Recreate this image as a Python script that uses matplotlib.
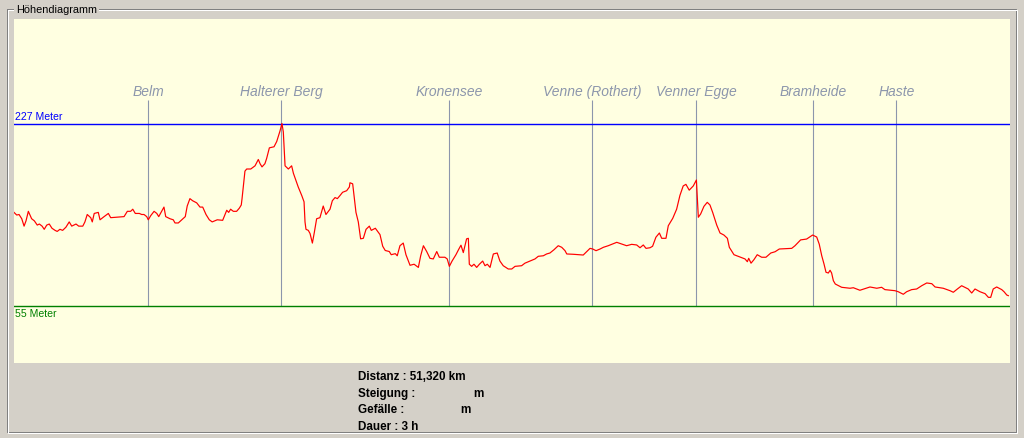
"""Hoehendiagramm: elevation profile of a 51 km route with waypoint markers."""

import matplotlib

matplotlib.use("Agg")
import matplotlib.pyplot as plt
from matplotlib.lines import Line2D

# --- data ---
DIST_KM = [
    0.00, 0.14, 0.26, 0.40, 0.52, 0.62, 0.74, 0.91, 1.05, 1.20,
    1.31, 1.45, 1.56, 1.69, 1.82, 1.96, 2.12, 2.23, 2.37, 2.51,
    2.68, 2.85, 2.98, 3.20, 3.34, 3.55, 3.66, 3.78, 3.96, 4.04,
    4.14, 4.35, 4.44, 4.65, 4.87, 4.99, 5.68, 5.85, 6.02, 6.13,
    6.26, 6.47, 6.59, 6.71, 6.85, 6.93, 7.06, 7.23, 7.37, 7.47,
    7.62, 7.74, 7.83, 8.05, 8.22, 8.31, 8.48, 8.66, 8.84, 8.94,
    9.08, 9.22, 9.43, 9.60, 9.74, 9.91, 10.08, 10.23, 10.49, 10.77,
    10.98, 11.08, 11.18, 11.32, 11.49, 11.63, 11.73, 11.77, 11.92, 12.01,
    12.22, 12.44, 12.61, 12.70, 12.80, 12.95, 13.04, 13.18, 13.42, 13.56,
    13.73, 13.83, 13.90, 13.99, 14.16, 14.33, 14.42, 14.67, 14.85, 14.97,
    15.02, 15.07, 15.19, 15.28, 15.40, 15.50, 15.62, 15.79, 15.96, 16.10,
    16.31, 16.43, 16.57, 16.69, 16.83, 16.96, 17.17, 17.31, 17.34, 17.48,
    17.55, 17.65, 17.77, 17.89, 18.03, 18.17, 18.34, 18.44, 18.65, 18.89,
    19.03, 19.16, 19.37, 19.47, 19.68, 19.78, 19.92, 20.09, 20.23, 20.44,
    20.65, 20.87, 20.99, 21.13, 21.30, 21.47, 21.64, 21.82, 21.95, 22.24,
    22.36, 22.47, 22.61, 22.81, 22.95, 23.07, 23.19, 23.36, 23.45, 23.50,
    23.62, 23.74, 23.88, 24.02, 24.19, 24.31, 24.43, 24.57, 24.74, 24.94,
    25.08, 25.25, 25.51, 25.69, 25.86, 26.20, 26.37, 26.63, 26.89, 27.06,
    27.32, 27.49, 27.66, 27.87, 28.09, 28.27, 28.44, 28.53, 28.87, 29.38,
    29.59, 29.73, 29.87, 30.04, 30.25, 30.42, 30.67, 31.11, 31.62, 31.88,
    32.14, 32.31, 32.48, 32.62, 32.83, 32.96, 33.13, 33.31, 33.43, 33.65,
    33.77, 34.00, 34.20, 34.37, 34.54, 34.68, 34.85, 35.06, 35.22, 35.32,
    35.44, 35.61, 35.78, 35.92, 36.06, 36.27, 36.44, 36.64, 36.82, 36.92,
    37.16, 37.38, 37.56, 37.73, 37.85, 37.92, 38.04, 38.19, 38.36, 38.59,
    38.81, 39.06, 39.28, 39.50, 40.14, 40.31, 40.60, 40.91, 41.22, 41.43,
    41.56, 41.69, 41.81, 41.91, 42.03, 42.12, 42.20, 42.29, 42.39, 42.72,
    43.15, 43.32, 43.66, 44.18, 44.53, 44.78, 44.95, 45.47, 45.64, 45.90,
    46.07, 46.33, 46.59, 46.85, 47.11, 47.37, 47.54, 47.96, 48.31, 48.48,
    48.69, 48.91, 49.08, 49.25, 49.43, 49.60, 49.86, 50.12, 50.29, 50.41,
    50.54, 50.72, 50.98, 51.10, 51.24, 51.32,
]
ELEV_M = [
    143, 140.5, 141, 137, 130, 135, 144, 137, 135, 131,
    132, 130, 127, 131, 132, 128, 126, 125, 127, 126,
    129, 134, 130, 132, 130, 130, 134, 141, 138, 134,
    142, 143, 136, 139, 142, 138, 139, 144, 144, 146,
    142, 142, 141, 141, 139, 136, 140, 144, 142, 139,
    144, 148, 139, 137, 136, 133, 133, 136, 139, 149,
    156, 154, 152, 148, 148, 141, 136, 134, 136, 135.5,
    145, 143, 146, 144, 144, 147, 150, 156, 182, 184,
    184, 187, 193, 189, 186, 189, 194, 204, 205, 210,
    220, 227, 219, 187, 184, 187, 180, 167, 159, 153,
    134, 127, 126, 123, 114, 124, 137, 138, 149, 141,
    146, 154, 157, 156, 159, 162, 163.5, 167, 171, 170,
    159, 143, 134, 118, 118.5, 127, 130, 126, 128, 122,
    111, 107, 106, 103, 104, 102, 111.5, 114, 103, 93,
    94, 91, 102, 111.5, 106, 99.6, 99, 106, 100.6, 100.6,
    99, 92, 97, 103, 108, 112, 105, 118, 118.5, 94,
    92, 94, 91, 94, 97, 92.6, 94, 91, 103.7, 104.6,
    97, 92.6, 89.5, 89.5, 92, 92.6, 95, 97, 99, 101.5,
    102, 103.7, 104.6, 107.7, 111.5, 110, 106.8, 103.7, 103.4, 102.7,
    106.5, 109, 108.4, 106.8, 108.4, 110, 111.5, 114.7, 111.5, 112.8,
    112.2, 109.6, 112.2, 109, 109.6, 111, 119.5, 123.5, 118.5, 118.5,
    130.4, 137.4, 146, 159, 168, 169.5, 164, 168, 173.6, 138.4,
    141.5, 148.7, 152.5, 150, 143, 131, 123.5, 121.6, 118.5, 110,
    103, 101.5, 100.2, 99, 96.4, 99.6, 95, 98.3, 103, 100.6,
    100.6, 104.6, 105.8, 108.4, 109, 111.5, 117, 117.8, 121.6, 119.7,
    113, 102, 94, 86.4, 85.7, 88.3, 85.7, 78.4, 75.3, 72.2,
    71.3, 71.8, 69.4, 72.5, 71.3, 72.2, 70, 69, 68, 65.6,
    68, 70, 70.6, 73.7, 76.3, 75.6, 72.5, 71.3, 69, 67.5,
    70.6, 73.7, 72.2, 70.6, 66.8, 70.6, 68, 66.2, 62.7, 62.7,
    70.6, 72.5, 70, 68, 64.9, 64.3,
]
WAYPOINTS = ["Belm", "Halterer Berg", "Kronensee", "Venne (Rothert)",
             "Venner Egge", "Bramheide", "Haste"]
WAYPOINT_KM = [6.93, 13.80, 22.47, 29.85, 35.21, 41.25, 45.54]
MAX_M = 227
MIN_M = 55
SUMMARY = ["Distanz : 51,320 km", "Steigung :", "Gefälle :", "Dauer : 3 h"]

W, H = 1024, 439
GRAY = "#D4D0C8"
PANEL = "#FFFFE1"
MARK = "#8C96AC"
PX = 72 / 100  # one pixel in points

fig = plt.figure(figsize=(W / 100, H / 100), dpi=100, facecolor=GRAY)

# background layer in pixel coordinates for the group box and summary
bg = fig.add_axes([0, 0, 1, 1], zorder=0)
bg.set_xlim(0, W)
bg.set_ylim(H, 0)
bg.set_axis_off()
for off, col in ((0, "#808080"), (1, "white")):
    x0, x1, y0, y1 = 6.5 + off, 1015.5 + off, 9.5 + off, 433.5 + off
    bg.add_line(Line2D([x0, x1, x1, x0, x0], [y0, y0, y1, y1, y0], color=col, lw=PX))
bg.text(16, 10, "Höhendiagramm", fontsize=7.8, family="Liberation Sans",
        ha="left", va="center",
        bbox=dict(facecolor=GRAY, edgecolor="none", pad=1.5))

rows_y = [377, 394, 410.5, 427]
summary_font = dict(fontsize=8.4, family="Liberation Sans", weight="bold",
                    ha="left", va="center")
for label, y in zip(SUMMARY, rows_y):
    bg.text(358, y, label, **summary_font)
bg.text(473, rows_y[1], "m", **summary_font)
bg.text(460, rows_y[2], "m", **summary_font)

# --- the profile panel ---
left, right, top, bottom = 14, 1010, 20, 364
ax = fig.add_axes([left / W, 1 - bottom / H, (right - left) / W, (bottom - top) / H],
                  zorder=1)
ax.set_facecolor(PANEL)
for s in ax.spines.values():
    s.set_visible(False)
ax.set_xticks([])
ax.set_yticks([])
m_per_px = (MAX_M - MIN_M) / 182
ax.set_xlim(0, 996 / 19.375)
ax.set_ylim(MIN_M - 57.5 * m_per_px, MAX_M + 104.5 * m_per_px)

ax.vlines(WAYPOINT_KM, MIN_M, MAX_M + 23.5 * m_per_px, color=MARK, lw=1.1 * PX)
ax.axhline(MAX_M, color="#0000FF", lw=1.4 * PX)
ax.axhline(MIN_M, color="#008000", lw=1.4 * PX)
ax.plot(DIST_KM, ELEV_M, color="#FF0000", lw=1.2 * PX)

for name, km in zip(WAYPOINTS, WAYPOINT_KM):
    ax.text(km, MAX_M + 32.5 * m_per_px, name, ha="center", va="center",
            fontsize=10, family="Liberation Sans", style="italic", color=MARK)

ax.text(0.001, MAX_M + 2, f"{MAX_M} Meter", transform=ax.get_yaxis_transform(),
        ha="left", va="bottom", fontsize=7.6, family="Liberation Sans",
        color="#0000FF")
ax.text(0.001, MIN_M - 2.5, f"{MIN_M} Meter", transform=ax.get_yaxis_transform(),
        ha="left", va="top", fontsize=7.6, family="Liberation Sans",
        color="#008000")

fig.savefig("out.png", dpi=100, facecolor=GRAY)
